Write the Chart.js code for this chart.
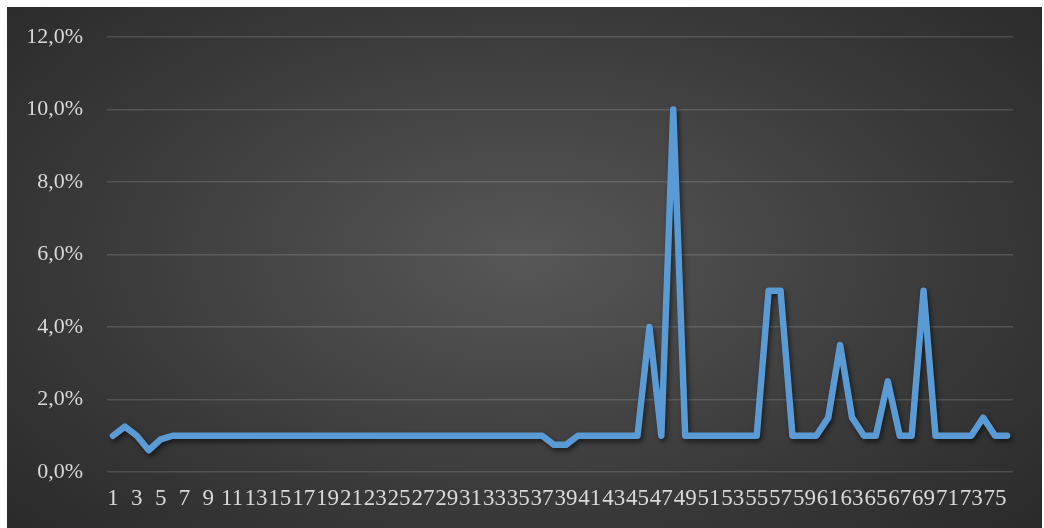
<!DOCTYPE html>
<html>
<head>
<meta charset="utf-8">
<script src="https://cdn.jsdelivr.net/npm/chart.js@4.4.1/dist/chart.umd.min.js"></script>
<style>
  html, body { margin: 0; padding: 0; background: #fff; }
  #frame {
    position: absolute; left: 7px; top: 7px; width: 1035px; height: 521px;
    background: radial-gradient(ellipse 75% 85% at 50% 48%, #575757 0%, #3a3a3a 55%, #262626 100%);
  }
  #frame canvas { display: block; }
</style>
</head>
<body>
<div id="frame"><canvas id="chart" width="1035" height="521"></canvas></div>
<script>
// kategori 1..76 dan nilai (%)
var categories = [];
for (var i = 1; i <= 76; i++) categories.push(String(i));

var values = [
  1.0, 1.25, 1.0, 0.6, 0.9, 1.0, 1.0, 1.0, 1.0, 1.0,
  1.0, 1.0, 1.0, 1.0, 1.0, 1.0, 1.0, 1.0, 1.0, 1.0,
  1.0, 1.0, 1.0, 1.0, 1.0, 1.0, 1.0, 1.0, 1.0, 1.0,
  1.0, 1.0, 1.0, 1.0, 1.0, 1.0, 1.0, 0.75, 0.75, 1.0,
  1.0, 1.0, 1.0, 1.0, 1.0, 4.0, 1.0, 10.0, 1.0, 1.0,
  1.0, 1.0, 1.0, 1.0, 1.0, 5.0, 5.0, 1.0, 1.0, 1.0,
  1.5, 3.5, 1.5, 1.0, 1.0, 2.5, 1.0, 1.0, 5.0, 1.0,
  1.0, 1.0, 1.0, 1.5, 1.0, 1.0
];

var yTicks = [0, 2, 4, 6, 8, 10, 12];

var textColor = '#d9d9d9';
var fontFamily = '"Liberation Serif", "Times New Roman", serif';

var lineShadow = {
  id: 'lineShadow',
  beforeDatasetsDraw: function(chart) {
    var ctx = chart.ctx;
    ctx.save();
    ctx.shadowColor = 'rgba(0,0,0,0.55)';
    ctx.shadowBlur = 5;
    ctx.shadowOffsetX = 2;
    ctx.shadowOffsetY = 3;
  },
  afterDatasetsDraw: function(chart) {
    chart.ctx.restore();
  }
};

new Chart(document.getElementById('chart'), {
  type: 'line',
  data: {
    labels: categories,
    datasets: [{
      data: values,
      borderColor: '#5b9bd5',
      borderWidth: 6.5,
      pointRadius: 0,
      tension: 0,
      fill: false,
      borderJoinStyle: 'round',
      borderCapStyle: 'round'
    }]
  },
  options: {
    responsive: false,
    animation: false,
    layout: { padding: { top: 30, right: 29, left: 0, bottom: 0 } },
    plugins: { legend: { display: false }, tooltip: { enabled: false } },
    scales: {
      x: {
        offset: true,
        grid: { display: false, drawTicks: false },
        border: { display: false },
        afterFit: function(scale) { scale.height = 56; },
        ticks: {
          autoSkip: false,
          maxRotation: 0,
          padding: 13,
          color: textColor,
          font: { family: fontFamily, size: 23 },
          callback: function(val, idx) { return idx % 2 === 0 ? categories[idx] : ''; }
        }
      },
      y: {
        min: 0,
        max: 12,
        afterFit: function(scale) { scale.width = 100; },
        afterBuildTicks: function(scale) {
          scale.ticks = yTicks.map(function(v) { return { value: v }; });
        },
        grid: {
          color: 'rgba(255,255,255,0.14)', lineWidth: 1.5,
          drawTicks: true, tickLength: 20, tickColor: 'rgba(0,0,0,0)'
        },
        border: { display: false },
        ticks: {
          padding: 4,
          color: textColor,
          font: { family: fontFamily, size: 22 },
          callback: function(val) { return val.toFixed(1).replace('.', ',') + '%'; }
        }
      }
    }
  },
  plugins: [lineShadow]
});
</script>
</body>
</html>
